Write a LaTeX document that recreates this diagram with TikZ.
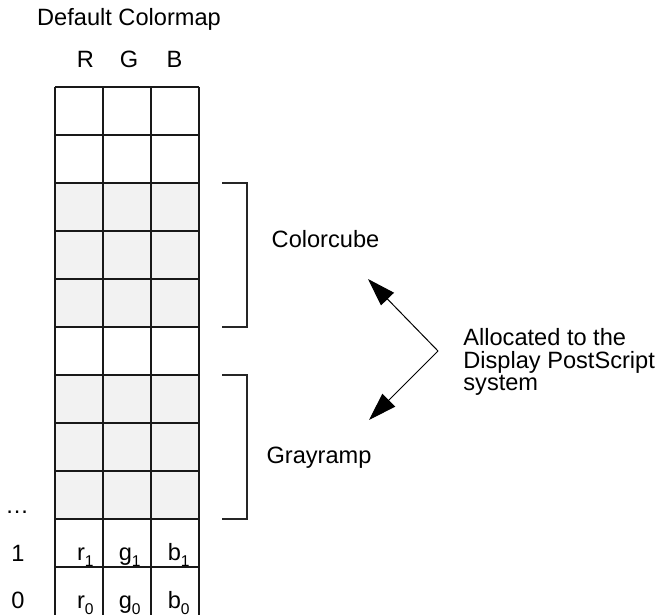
\documentclass[tikz,border=0pt]{standalone}
\usepackage{fontspec}
\setmainfont{Liberation Sans}
\usetikzlibrary{arrows.meta}
\definecolor{cellshade}{RGB}{242,242,242}
% lowered index digit after an entry letter
\newcommand\lowidx[1]{\raisebox{-0.27em}{\fontsize{7.8}{7.8}\selectfont #1}}
\begin{document}
\begin{tikzpicture}[x=0.5pt,y=-0.5pt,
  txt/.style={inner sep=0pt, font=\fontsize{11.8}{11.25}\selectfont},
  gridline/.style={line width=0.65pt, draw=black!90},
  bracket/.style={line width=0.55pt, draw=black!85},
  pointer/.style={line width=0.5pt, -{Triangle[length=14pt,width=9pt]}}]
\useasboundingbox (0,0) rectangle (660,615);

% shaded colormap entries
\fill[cellshade] (55,183) rectangle (199,327);
\fill[cellshade] (55,375) rectangle (199,519);

% colormap table
\foreach \x in {55,103,151,199} \draw[gridline] (\x,87) -- (\x,615);
\foreach \y in {87,135,...,567} \draw[gridline] (55,\y) -- (199,\y);

% titles
\node[txt, anchor=base] (title) at (129,26) {Default Colormap};
\node[txt, anchor=base] (colR) at (85.5,68) {R};
\node[txt, anchor=base] (colG) at (129,68) {G};
\node[txt, anchor=base] (colB) at (174.5,68) {B};

% row indices
\node[txt, anchor=base west] (rowdots) at (5,513) {…};
\node[txt, anchor=base west] (row1) at (11,561) {1};
\node[txt, anchor=base west] (row0) at (11,608) {0};

% entry contents
\node[txt, anchor=base east] (r1) at (94,560) {r\lowidx{1}};
\node[txt, anchor=base east] (g1) at (141,560) {g\lowidx{1}};
\node[txt, anchor=base east] (b1) at (190,560) {b\lowidx{1}};
\node[txt, anchor=base east] (r0) at (94,608) {r\lowidx{0}};
\node[txt, anchor=base east] (g0) at (141,608) {g\lowidx{0}};
\node[txt, anchor=base east] (b0) at (190,608) {b\lowidx{0}};

% brackets
\draw[bracket] (222,183) -- (247,183) -- (247,327) -- (222,327);
\draw[bracket] (222,375) -- (247,375) -- (247,519) -- (222,519);

% range labels
\node[txt, anchor=base] (cube) at (325.5,248) {Colorcube};
\node[txt, anchor=base] (gray) at (319,464) {Grayramp};

% note
\node[txt, anchor=base west] (note1) at (463,346) {Allocated to the};
\node[txt, anchor=base west] (note2) at (463,368.5) {Display PostScript};
\node[txt, anchor=base west] (note3) at (463,391) {system};

% pointers
\coordinate (fork) at (438,351);
\coordinate (cubeTip) at (368,279);
\coordinate (grayTip) at (369,420);
\draw[pointer] (fork) -- (cubeTip);
\draw[pointer] (fork) -- (grayTip);
\end{tikzpicture}
\end{document}
